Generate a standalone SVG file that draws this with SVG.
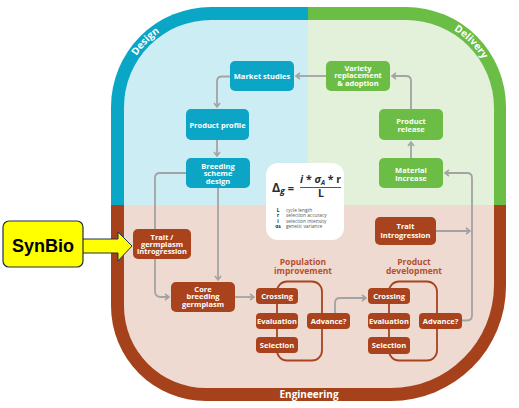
<svg xmlns="http://www.w3.org/2000/svg" width="519" height="408" viewBox="0 0 519 408">
<defs>
<style>
.nt{font-family:"Open Sans","DejaVu Sans",sans-serif;font-weight:700;font-size:7.5px;fill:#fff;text-anchor:middle}
.lbl{font-family:"Open Sans","DejaVu Sans",sans-serif;font-weight:700;font-size:10px;fill:#fff}
.hd{font-family:"Open Sans","DejaVu Sans",sans-serif;font-weight:700;font-size:8.5px;fill:#B4502A;text-anchor:middle}
.bl{fill:#0DA5C5}
.gr{fill:#6CBD45}
.br{fill:#A8431D}
.cn{fill:none;stroke:#A3A3A3;stroke-width:1.8;marker-end:url(#ah)}
.loop{fill:none;stroke:#A8431D;stroke-width:1.8}
.fm{font-family:"Open Sans","DejaVu Sans",sans-serif;font-weight:700;fill:#2B2B2B}
.lg{font-family:"Open Sans","DejaVu Sans",sans-serif;font-size:4.8px;fill:#555}
.ls{font-family:"Open Sans","DejaVu Sans",sans-serif;font-size:4.8px;font-weight:700;fill:#222;text-anchor:middle}
</style>
<marker id="ah" markerWidth="8" markerHeight="8" refX="5.5" refY="4" orient="auto" markerUnits="userSpaceOnUse">
<path d="M1.5,1 L5.5,4 L1.5,7" fill="none" stroke="#A3A3A3" stroke-width="1.6"/>
</marker>
<clipPath id="outer"><path d="M211,7 H406 A100,100 0 0 1 506,107 V286 A115,115 0 0 1 391,401 H206 A95,95 0 0 1 111,306 V107 A100,100 0 0 1 211,7 Z"/></clipPath>
<clipPath id="inner"><path d="M211,20 H406 A88,88 0 0 1 494,108 V285 A103,103 0 0 1 391,388 H206 A82,82 0 0 1 124,306 V107 A87,87 0 0 1 211,20 Z"/></clipPath>
<path id="arcD" d="M120.5,107 A90.5,90.5 0 0 1 211,16.5"/>
<path id="arcV" d="M406,16.5 A90.5,90.5 0 0 1 496.5,107"/>
</defs>

<g id="frame">
<g clip-path="url(#outer)">
<rect x="100" y="0" width="208" height="205" fill="#0AA6C6"/>
<rect x="308" y="0" width="211" height="205" fill="#6ABD45"/>
<rect x="100" y="205" width="419" height="203" fill="#A5411B"/>
</g>
<g clip-path="url(#inner)">
<rect x="100" y="0" width="208" height="205" fill="#CDEDF4"/>
<rect x="308" y="0" width="211" height="205" fill="#E3F1DB"/>
<rect x="100" y="205" width="419" height="203" fill="#EFDAD2"/>
</g>
<text class="lbl"><textPath href="#arcD" startOffset="50%" text-anchor="middle">Design</textPath></text>
<text class="lbl"><textPath href="#arcV" startOffset="50%" text-anchor="middle">Delivery</textPath></text>
<text class="lbl" x="309" y="398" text-anchor="middle">Engineering</text>
</g>

<g id="connectors">
<path class="cn" d="M230,76.5 H222 Q217,76.5 217,81.5 V107"/>
<path class="cn" d="M217,140 V156"/>
<path class="cn" d="M218,188 V280"/>
<path class="cn" d="M186,173 H160 Q155,173 155,178 V291 Q155,297 161,297 H169"/>
<path class="cn" d="M235,297 H254"/>
<path class="cn" d="M335,313 V303 Q335,298 340,298 H366"/>
<path class="cn" d="M462,320.5 H467 Q472,320.5 472,315.5 V178 Q472,173 467,173 H445"/>
<path class="cn" d="M436,231 H470"/>
<path class="cn" d="M411,158 V142"/>
<path class="cn" d="M411,109 V81 Q411,76 406,76 H392"/>
<path class="cn" d="M326,76 H296"/>
<rect class="loop" x="277" y="281.5" width="45" height="79" rx="10"/>
<rect class="loop" x="389" y="281.5" width="48" height="79" rx="10"/>
</g>

<g id="market-studies"><rect class="bl" x="230" y="61" width="64" height="30" rx="5"/><text class="nt" x="262" y="79">Market studies</text></g>
<g id="product-profile"><rect class="bl" x="186" y="109" width="63" height="31" rx="5"/><text class="nt" x="217.5" y="127.5">Product profile</text></g>
<g id="breeding-scheme"><rect class="bl" x="186" y="158" width="64" height="30" rx="5"/><text class="nt" x="218" y="168.5">Breeding<tspan x="218" dy="7.7">scheme</tspan><tspan x="218" dy="7.7">design</tspan></text></g>

<g id="variety"><rect class="gr" x="326" y="61" width="64" height="30" rx="5"/><text class="nt" x="358" y="70.5">Variety<tspan x="358" dy="7.7">replacement</tspan><tspan x="358" dy="7.7">&amp; adoption</tspan></text></g>
<g id="product-release"><rect class="gr" x="379" y="109" width="64" height="31" rx="5"/><text class="nt" x="411" y="124">Product<tspan x="411" dy="7.7">release</tspan></text></g>
<g id="material-increase"><rect class="gr" x="379" y="158" width="64" height="30" rx="5"/><text class="nt" x="411" y="173">Material<tspan x="411" dy="7.7">increase</tspan></text></g>

<g id="formula">
<rect x="266" y="163" width="78" height="77" rx="12" fill="#fff"/>
<text class="fm" x="272" y="192" font-size="12.5">Δ<tspan font-size="8.5" dy="2" font-style="italic">g</tspan><tspan dy="-2" font-size="11"> =</tspan></text>
<text class="fm" x="320.5" y="183" font-size="10.5" text-anchor="middle"><tspan font-style="italic">i</tspan> * <tspan font-style="italic">σ</tspan><tspan font-size="6.5" dy="2" font-style="italic">A</tspan><tspan dy="-2"> * r</tspan></text>
<line x1="300" y1="187.5" x2="341" y2="187.5" stroke="#2B2B2B" stroke-width="0.8"/>
<text class="fm" x="321" y="197" font-size="10.5" text-anchor="middle">L</text>
<text class="ls" x="278" y="211.5">L</text><text class="lg" x="286" y="211.5">cycle length</text>
<text class="ls" x="278" y="217">r</text><text class="lg" x="286" y="217">selection accuracy</text>
<text class="ls" x="278" y="222.5">i</text><text class="lg" x="286" y="222.5">selection intensity</text>
<text class="ls" x="278" y="228">σ<tspan font-size="3.2">A</tspan></text><text class="lg" x="286" y="228">genetic variance</text>
</g>

<g id="trait-germplasm"><rect class="br" x="133" y="229" width="58" height="30" rx="5"/><text class="nt" x="162" y="239.5">Trait /<tspan x="162" dy="7.4">germplasm</tspan><tspan x="162" dy="7.4">introgression</tspan></text></g>
<g id="core-breeding"><rect class="br" x="171" y="282" width="64" height="30" rx="5"/><text class="nt" x="203" y="291.5">Core<tspan x="203" dy="7.6">breeding</tspan><tspan x="203" dy="7.6">germplasm</tspan></text></g>
<g id="trait-introgression"><rect class="br" x="375" y="217" width="61" height="28" rx="5"/><text class="nt" x="405.5" y="228.5">Trait<tspan x="405.5" dy="9.5">introgression</tspan></text></g>

<text class="hd" x="303" y="265">Population<tspan x="303" dy="8.5">improvement</tspan></text>
<text class="hd" x="414" y="265">Product<tspan x="414" dy="8.5">development</tspan></text>

<g id="crossing-1"><rect class="br" x="256" y="288" width="42" height="16" rx="4"/><text class="nt" x="277" y="298.5">Crossing</text></g>
<g id="evaluation-1"><rect class="br" x="256" y="313" width="42" height="16" rx="4"/><text class="nt" x="277" y="323.5">Evaluation</text></g>
<g id="selection-1"><rect class="br" x="256" y="337" width="42" height="16" rx="4"/><text class="nt" x="277" y="347.5">Selection</text></g>
<g id="advance-1"><rect class="br" x="307" y="313" width="43" height="16" rx="4"/><text class="nt" x="328.5" y="323.5">Advance?</text></g>

<g id="crossing-2"><rect class="br" x="368" y="288" width="42" height="16" rx="4"/><text class="nt" x="389" y="298.5">Crossing</text></g>
<g id="evaluation-2"><rect class="br" x="368" y="313" width="42" height="16" rx="4"/><text class="nt" x="389" y="323.5">Evaluation</text></g>
<g id="selection-2"><rect class="br" x="368" y="337" width="42" height="17" rx="4"/><text class="nt" x="389" y="348">Selection</text></g>
<g id="advance-2"><rect class="br" x="419" y="313" width="43" height="16" rx="4"/><text class="nt" x="440.5" y="323.5">Advance?</text></g>

<g id="synbio">
<polygon points="82,239 118,239 118,232 132,246 118,261 118,253 82,253" fill="#FFFF00" stroke="#1F2E4A" stroke-width="1"/>
<rect x="3" y="221" width="80" height="46" rx="6" fill="#FFFF00" stroke="#1F2E4A" stroke-width="1.2"/>
<text x="43" y="252" font-family="'Liberation Sans',Arial,sans-serif" font-weight="700" font-size="18" text-anchor="middle" fill="#000">SynBio</text>
</g>
</svg>
